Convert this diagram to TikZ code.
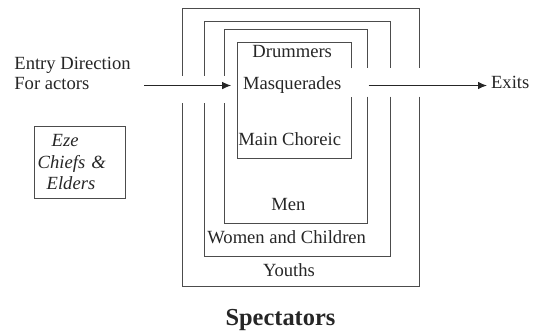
\documentclass[tikz,border=0pt]{standalone}
\usepackage{fontspec}
\setmainfont{Liberation Serif}
\usetikzlibrary{arrows.meta}

\tikzset{
  ring/.style={line width=0.5pt,black!70},
  lbl/.style={inner sep=0pt,black!85,font=\fontsize{9.3}{10}\selectfont},
  arr/.style={line width=0.55pt,black!85,-{Latex[length=4.5pt,width=3.8pt]}}
}

\begin{document}
\begin{tikzpicture}[x=0.5pt,y=-0.5pt]
    \useasboundingbox (0,0) rectangle (536,331);
    % the three outer rings, open on both sides
    \foreach \lx/\rx/\ty/\by in {182.5/419.3/8.3/286.7,204.3/390/21.7/256.7,224.3/367.5/30/224}{
        \draw[ring] (\lx,76) -- (\lx,\ty) -- (\rx,\ty) -- (\rx,68.3);
        \draw[ring] (\rx,96.7) -- (\rx,\by) -- (\lx,\by) -- (\lx,103);
    }
    % main choreic ring, open on the right only
    \draw[ring] (351,68.3) -- (351,42.7) -- (237.7,42.7) -- (237.7,158.3) -- (351,158.3) -- (351,96.7);

    \node[lbl,anchor=base] (drum) at (292.2,58) {Drummers};
    \node[lbl,anchor=base] (masq) at (292.2,90) {Masquerades};
    \node[lbl,anchor=base] (main) at (289.7,145.7) {Main Choreic};
    \node[lbl,anchor=base] (men) at (288.3,211) {Men};
    \node[lbl,anchor=base] (women) at (286.7,244) {Women and Children};
    \node[lbl,anchor=base] (youths) at (289,276.7) {Youths};
    \node[lbl,anchor=base,font=\fontsize{12.2}{14}\selectfont\bfseries] (spect) at (280.5,325.5) {Spectators};

    \node[lbl,anchor=base west,align=left] (entry) at (14,90) {Entry Direction\\For actors};
    \node[lbl,anchor=base west] (exits) at (490.7,88.3) {Exits};

    \node[lbl,draw=black!70,line width=0.5pt,inner xsep=1.7pt,text width=42.3pt,minimum height=35.8pt,
          align=left,font=\fontsize{9.3}{10.75}\selectfont\itshape] (eze) at (80,162.5)
          {\hspace{7pt}Eze\\Chiefs \&\\\hspace{4.5pt}Elders};

    \draw[arr,shorten <=6.5pt,shorten >=5.8pt] (entry.east |- masq.west) -- (masq.west);
    \draw[arr,shorten <=13.5pt,shorten >=1.85pt] (masq.east) -- (masq.east -| exits.west);
\end{tikzpicture}
\end{document}
